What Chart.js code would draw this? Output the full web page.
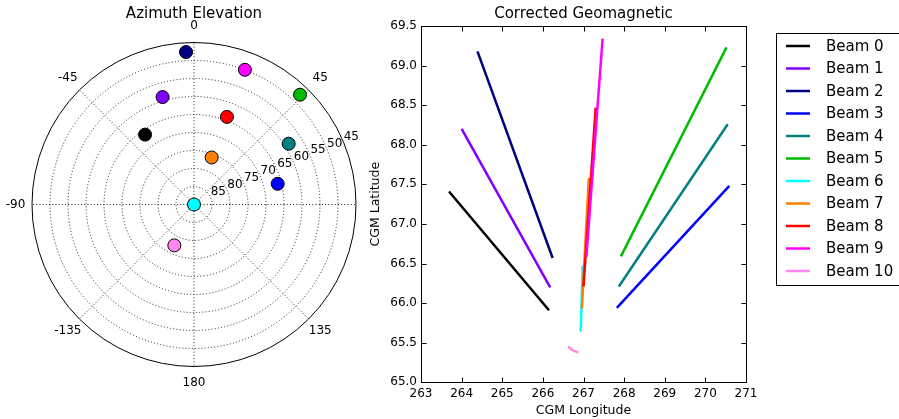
<!DOCTYPE html>
<html>
<head>
	<title>Azimuth Elevation / Corrected Geomagnetic</title>
	<script src="https://cdn.jsdelivr.net/npm/chart.js@4.4.0/dist/chart.umd.min.js"></script>
	<style>
		body { margin: 0; background: #fff; }
		#wrap { position: relative; width: 899px; height: 419px; overflow: hidden; }
		canvas { position: absolute; top: 0; }
		#polar { left: 0; }
		#cgm { left: 360px; }
	</style>
</head>
<body>
	<div id="wrap">
		<canvas id="polar" width="388" height="419"></canvas>
		<canvas id="cgm" width="539" height="419"></canvas>
	</div>
	<script type="text/javascript">
		var beamNames = ['Beam 0', 'Beam 1', 'Beam 2', 'Beam 3', 'Beam 4', 'Beam 5', 'Beam 6', 'Beam 7', 'Beam 8', 'Beam 9', 'Beam 10'];
		var beamColors = ['#000000', '#8000ff', '#000080', '#0000ff', '#008080', '#00bb00', '#00ffff', '#ff8000', '#ff0000', '#ff00ff', '#ff88ee'];

		// azimuth / elevation of each beam (degrees)
		var beamAz = [-35.0, -16.3, -3.0, 76.1, 57.3, 44.0, 0.0, 20.6, 20.6, 20.7, -154.3];
		var beamEl = [66.3, 58.9, 47.6, 66.05, 58.75, 47.6, 90.0, 76.05, 64.0, 50.0, 77.4];

		var elevTicks = [45, 50, 55, 60, 65, 70, 75, 80, 85];
		var azTicks = [0, 45, 90, 135, 180, -135, -90, -45];
		var azTickLabels = ['0', '45', '', '135', '180', '-135', '-90', '-45'];

		// CGM footprints of each beam
		var beamLon = [
			[263.69, 266.15],
			[264.00, 266.18],
			[264.39, 266.24],
			[267.82, 270.59],
			[267.87, 270.55],
			[267.92, 270.52],
			[266.93, 266.98],
			[266.96, 267.13],
			[267.00, 267.30],
			[267.07, 267.47],
			[266.62, 266.75, 266.87]
		];
		var beamLat = [
			[67.41, 65.91],
			[68.20, 66.20],
			[69.18, 66.57],
			[65.94, 67.48],
			[66.21, 68.26],
			[66.59, 69.23],
			[65.64, 66.47],
			[65.93, 67.58],
			[66.21, 68.47],
			[66.58, 69.34],
			[65.45, 65.40, 65.38]
		];
		var lonTicks = [263, 264, 265, 266, 267, 268, 269, 270, 271];
		var latTicks = [65.0, 65.5, 66.0, 66.5, 67.0, 67.5, 68.0, 68.5, 69.0, 69.5];

		Chart.defaults.font.family = "'DejaVu Sans'";
		Chart.defaults.color = '#000';

		var polarGrid = {
			id: 'polarGrid',
			beforeDatasetsDraw: function(chart) {
				var ctx = chart.ctx, sx = chart.scales.x, sy = chart.scales.y;
				var cx = sx.getPixelForValue(0), cy = sy.getPixelForValue(0);
				var R = sx.getPixelForValue(45) - cx;
				ctx.save();
				ctx.strokeStyle = '#222';
				ctx.lineWidth = 1;
				ctx.setLineDash([1, 2.2]);
				elevTicks.forEach(function(el) {
					if (el === 45) return;
					var r = sx.getPixelForValue(90 - el) - cx;
					ctx.beginPath();
					ctx.arc(cx, cy, r, 0, 2 * Math.PI);
					ctx.stroke();
				});
				azTicks.forEach(function(az) {
					var a = az * Math.PI / 180;
					ctx.beginPath();
					ctx.moveTo(cx, cy);
					ctx.lineTo(cx + R * Math.sin(a), cy - R * Math.cos(a));
					ctx.stroke();
				});
				ctx.setLineDash([]);
				ctx.strokeStyle = '#000';
				ctx.beginPath();
				ctx.arc(cx, cy, R, 0, 2 * Math.PI);
				ctx.stroke();
				ctx.restore();
			},
			afterDatasetsDraw: function(chart) {
				var ctx = chart.ctx, sx = chart.scales.x, sy = chart.scales.y;
				var cx = sx.getPixelForValue(0), cy = sy.getPixelForValue(0);
				var R = sx.getPixelForValue(45) - cx;
				ctx.save();
				ctx.fillStyle = '#000';
				ctx.font = "12px 'DejaVu Sans'";
				ctx.textAlign = 'center';
				ctx.textBaseline = 'middle';
				azTicks.forEach(function(az, i) {
					var a = az * Math.PI / 180;
					ctx.fillText(azTickLabels[i], cx + (R + 16.5) * Math.sin(a), cy - (R + 16.5) * Math.cos(a));
				});
				// elevation labels along the 67.5 deg azimuth
				var ra = 67.5 * Math.PI / 180;
				ctx.textAlign = 'left';
				ctx.textBaseline = 'bottom';
				elevTicks.forEach(function(el) {
					var r = sx.getPixelForValue(90 - el) - cx;
					ctx.fillText(String(el), cx + r * Math.sin(ra), cy - r * Math.cos(ra));
				});
				ctx.restore();
			}
		};

		new Chart(document.getElementById('polar'), {
			type: 'scatter',
			data: {
				datasets: [{
					label: 'Beams',
					data: beamAz.map(function(az, i) {
						var a = az * Math.PI / 180, r = 90 - beamEl[i];
						return { x: r * Math.sin(a), y: r * Math.cos(a) };
					}),
					pointRadius: 6.5,
					pointBackgroundColor: beamColors,
					pointBorderColor: '#000',
					pointBorderWidth: 1,
					showLine: false
				}]
			},
			options: {
				responsive: false,
				animation: false,
				devicePixelRatio: 1,
				layout: { padding: { left: 32, right: 32, top: 0, bottom: 52.5 } },
				plugins: {
					legend: { display: false },
					tooltip: { enabled: false },
					title: {
						display: true,
						text: 'Azimuth Elevation',
						fullSize: false,
						font: { size: 15, weight: 'normal' },
						padding: { top: 5.5, bottom: 19 }
					}
				},
				scales: {
					x: { type: 'linear', min: -45, max: 45, display: false },
					y: { type: 'linear', min: -45, max: 45, display: false }
				}
			},
			plugins: [polarGrid]
		});

		var frameTicks = {
			id: 'frameTicks',
			afterDraw: function(chart) {
				var a = chart.chartArea, ctx = chart.ctx, sx = chart.scales.x, sy = chart.scales.y;
				var L = Math.round(a.left) + 0.5, R = Math.round(a.right) + 0.5;
				var T = Math.round(a.top) + 0.5, B = Math.round(a.bottom) + 0.5;
				ctx.save();
				ctx.strokeStyle = '#000';
				ctx.lineWidth = 1;
				ctx.strokeRect(L, T, R - L, B - T);
				ctx.beginPath();
				lonTicks.forEach(function(v) {
					var px = Math.round(sx.getPixelForValue(v)) + 0.5;
					ctx.moveTo(px, B); ctx.lineTo(px, B - 5);
					ctx.moveTo(px, T); ctx.lineTo(px, T + 5);
				});
				latTicks.forEach(function(v) {
					var py = Math.round(sy.getPixelForValue(v)) + 0.5;
					ctx.moveTo(L, py); ctx.lineTo(L + 5, py);
					ctx.moveTo(R, py); ctx.lineTo(R - 5, py);
				});
				ctx.stroke();
				ctx.restore();
			}
		};

		var legendBox = {
			id: 'legendBox',
			afterDraw: function(chart) {
				var ctx = chart.ctx;
				var x0 = 416.5, y0 = 33.5, rowH = 22.5;
				ctx.save();
				ctx.strokeStyle = '#000';
				ctx.lineWidth = 1;
				ctx.strokeRect(x0, y0, 200, 252);
				ctx.font = "15px 'DejaVu Sans'";
				ctx.textAlign = 'left';
				ctx.textBaseline = 'middle';
				chart.data.datasets.forEach(function(ds, i) {
					var y = 46 + i * rowH;
					ctx.strokeStyle = ds.borderColor;
					ctx.lineWidth = 2.5;
					ctx.beginPath();
					ctx.moveTo(426, y);
					ctx.lineTo(450, y);
					ctx.stroke();
					ctx.fillStyle = '#000';
					ctx.fillText(ds.label, 466, y + 1);
				});
				ctx.restore();
			}
		};

		new Chart(document.getElementById('cgm'), {
			type: 'scatter',
			data: {
				datasets: beamNames.map(function(name, i) {
					return {
						label: name,
						data: beamLon[i].map(function(lon, j) { return { x: lon, y: beamLat[i][j] }; }),
						borderColor: beamColors[i],
						backgroundColor: beamColors[i],
						borderWidth: 2.5,
						pointRadius: 0,
						showLine: true,
						order: beamNames.length - i
					};
				})
			},
			options: {
				responsive: false,
				animation: false,
				devicePixelRatio: 1,
				layout: { padding: { left: 0, right: 153, top: 0, bottom: 0 } },
				plugins: {
					legend: { display: false },
					tooltip: { enabled: false },
					title: {
						display: true,
						text: 'Corrected Geomagnetic',
						fullSize: false,
						font: { size: 15, weight: 'normal' },
						padding: { top: 5.5, bottom: 2.5 }
					}
				},
				scales: {
					x: {
						type: 'linear', min: 263, max: 271,
						afterBuildTicks: function(s) { s.ticks = lonTicks.map(function(v) { return { value: v }; }); },
						ticks: { padding: 4, font: { size: 12 }, maxRotation: 0, callback: function(v) { return String(v); } },
						grid: { display: false, drawTicks: false },
						border: { display: false },
						title: { display: true, text: 'CGM Longitude', font: { size: 12.5 }, padding: { top: 0, bottom: 1 } },
						afterFit: function(s) { s.height = 36.7; }
					},
					y: {
						type: 'linear', min: 65, max: 69.5,
						afterBuildTicks: function(s) { s.ticks = latTicks.map(function(v) { return { value: v }; }); },
						ticks: { padding: 4, font: { size: 12 }, callback: function(v) { return v.toFixed(1); } },
						grid: { display: false, drawTicks: false },
						border: { display: false },
						title: { display: true, text: 'CGM Latitude', font: { size: 12.5 }, padding: { top: 8, bottom: 0 } },
						afterFit: function(s) { s.width = 61; }
					}
				}
			},
			plugins: [frameTicks, legendBox]
		});
	</script>
</body>
</html>
